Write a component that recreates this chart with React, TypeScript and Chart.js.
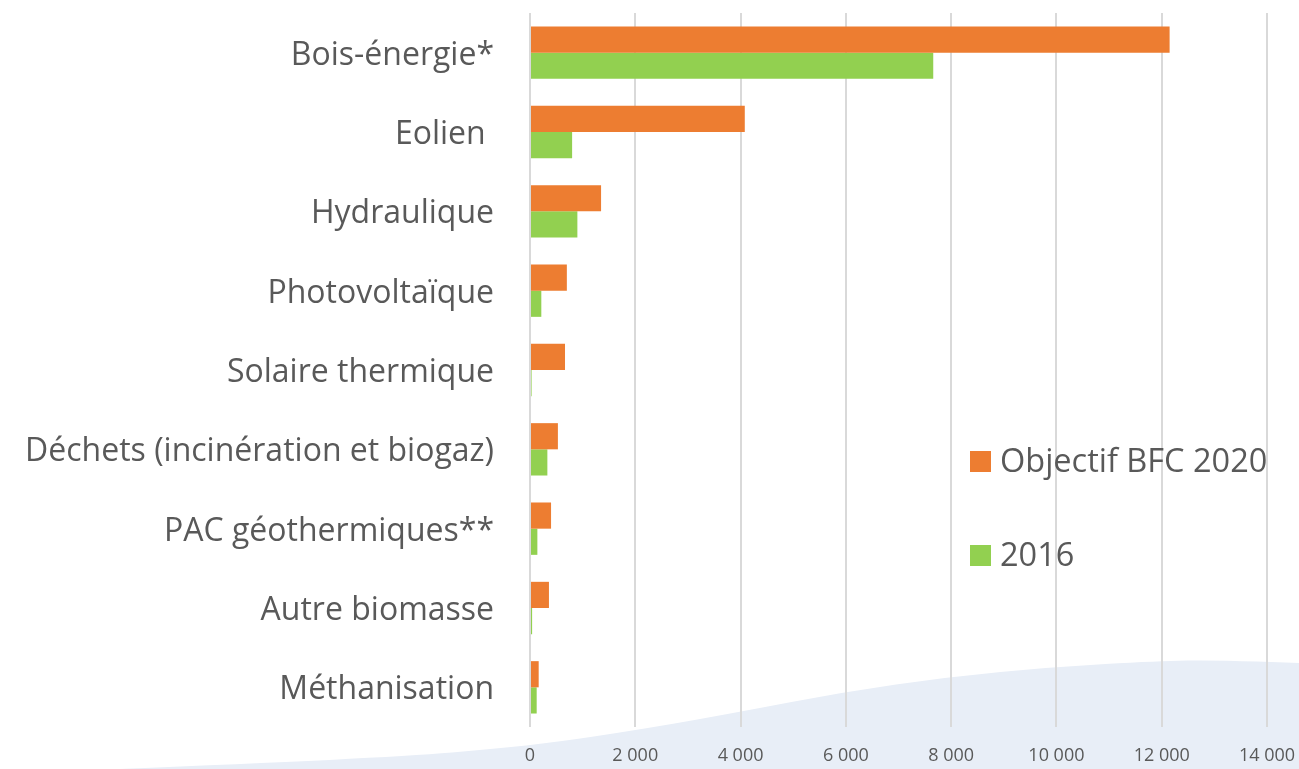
import React, { useEffect, useRef } from "react";
import { Chart, registerables } from "chart.js";

Chart.register(...registerables);

const categories = [
  "Bois-énergie*",
  "Eolien ",
  "Hydraulique",
  "Photovoltaïque",
  "Solaire thermique",
  "Déchets (incinération et biogaz)",
  "PAC géothermiques**",
  "Autre biomasse",
  "Méthanisation",
];
const objectif2020 = [12150, 4080, 1350, 700, 665, 530, 400, 360, 165];
const valeurs2016 = [7660, 800, 900, 215, 30, 330, 140, 40, 127];
const seriesLabels = ["Objectif BFC 2020", "2016"];
const seriesColors = ["#ED7D31", "#92D050"];
const xMin = 0;
const xMax = 14000;
const xStep = 2000;

const FONT = "'Open Sans', 'Noto Sans', sans-serif";
const TEXT = "#595959";

const fmt = (v: number) => String(v).replace(/\B(?=(\d{3})+(?!\d))/g, " ");

const wavePlugin = {
  id: "wave",
  beforeDraw(chart: any) {
    const ctx = chart.ctx;
    const pts = [
      [120, 769],
      [373, 759],
      [531, 746],
      [650, 728],
      [739, 712],
      [844, 692],
      [948, 677],
      [1053, 667],
      [1158, 661],
      [1215, 660],
      [1299, 663],
    ];
    ctx.save();
    ctx.beginPath();
    ctx.moveTo(0, 769);
    ctx.lineTo(pts[0][0], pts[0][1]);
    for (let i = 1; i < pts.length - 1; i++) {
      const mx = (pts[i][0] + pts[i + 1][0]) / 2;
      const my = (pts[i][1] + pts[i + 1][1]) / 2;
      ctx.quadraticCurveTo(pts[i][0], pts[i][1], mx, my);
    }
    ctx.lineTo(pts[pts.length - 1][0], pts[pts.length - 1][1]);
    ctx.lineTo(1299, 769);
    ctx.closePath();
    ctx.fillStyle = "#E8EEF7";
    ctx.fill();
    ctx.restore();
  },
};

const legendPlugin = {
  id: "customLegend",
  afterDraw(chart: any) {
    const ctx = chart.ctx;
    ctx.save();
    ctx.font = `32.5px ${FONT}`;
    ctx.textBaseline = "middle";
    ctx.textAlign = "left";
    chart.data.datasets.forEach((ds: any, i: number) => {
      const y = 462 + i * 94;
      ctx.fillStyle = ds.backgroundColor;
      ctx.fillRect(970, y - 11, 21, 21);
      ctx.fillStyle = TEXT;
      ctx.fillText(ds.label, 1000, y + 1);
    });
    ctx.restore();
  },
};

export default function App() {
  const ref = useRef<HTMLCanvasElement>(null);

  useEffect(() => {
    if (!ref.current) return;
    const chart = new Chart(ref.current, {
      type: "bar",
      data: {
        labels: categories,
        datasets: [
          {
            label: seriesLabels[0],
            data: objectif2020,
            backgroundColor: seriesColors[0],
            categoryPercentage: 0.66,
            barPercentage: 1.0,
          },
          {
            label: seriesLabels[1],
            data: valeurs2016,
            backgroundColor: seriesColors[1],
            categoryPercentage: 0.66,
            barPercentage: 1.0,
          },
        ],
      },
      options: {
        indexAxis: "y",
        responsive: false,
        animation: false,
        layout: { padding: { left: 0, right: 32, top: 13, bottom: 0 } },
        plugins: {
          legend: { display: false },
          tooltip: { enabled: false },
        },
        scales: {
          x: {
            min: xMin,
            max: xMax,
            ticks: {
              stepSize: xStep,
              color: TEXT,
              font: { family: FONT, size: 18 },
              padding: 18,
              callback: (v: any) => fmt(Number(v)),
            },
            grid: { color: "#D9D9D9", lineWidth: 2, drawTicks: false },
            border: { display: false },
            afterFit: (s: any) => {
              s.height = 42;
              s.paddingLeft = 0;
              s.paddingRight = 0;
            },
          },
          y: {
            ticks: {
              color: TEXT,
              font: { family: FONT, size: 32 },
              padding: 36,
              labelOffset: 3,
            },
            grid: { display: false, drawTicks: false },
            border: { display: false },
            afterFit: (s: any) => {
              s.width = 530;
              s.paddingTop = 0;
              s.paddingBottom = 0;
            },
          },
        },
      },
      plugins: [wavePlugin, legendPlugin],
    });
    return () => chart.destroy();
  }, []);

  return (
    <div style={{ position: "fixed", left: 0, top: 0, width: 1299, height: 769, background: "#fff" }}>
      <canvas ref={ref} width={1299} height={769} style={{ display: "block" }} />
    </div>
  );
}
